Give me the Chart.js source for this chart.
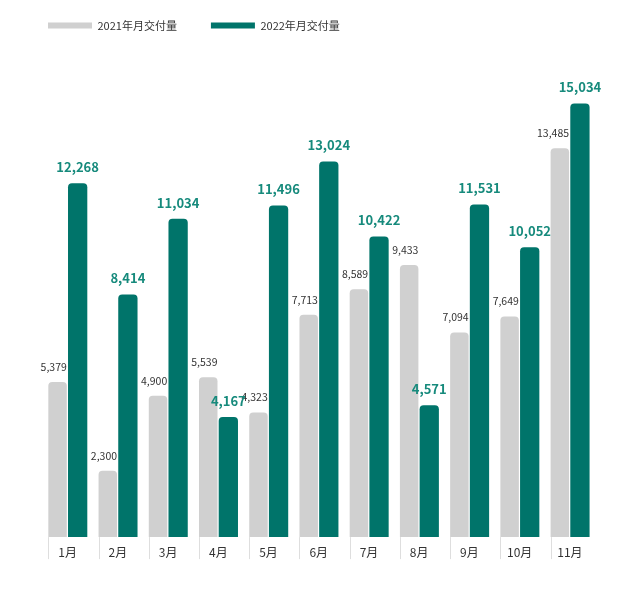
<!DOCTYPE html>
<html>
<head>
<meta charset="utf-8">
<script src="https://cdn.jsdelivr.net/npm/chart.js@4/dist/chart.umd.min.js"></script>
<style>
  html, body { margin: 0; padding: 0; background: #ffffff; }
  #wrap { width: 641px; height: 590px; position: relative; }
</style>
</head>
<body>
<div id="wrap"><canvas id="c" width="641" height="590"></canvas></div>
<script>
const categories = ['1月', '2月', '3月', '4月', '5月', '6月', '7月', '8月', '9月', '10月', '11月'];
const seriesNames = ['2021年月交付量', '2022年月交付量'];
const deliveries2021 = [5379, 2300, 4900, 5539, 4323, 7713, 8589, 9433, 7094, 7649, 13485];
const deliveries2022 = [12268, 8414, 11034, 4167, 11496, 13024, 10422, 4571, 11531, 10052, 15034];

const FONT = "'Noto Sans CJK SC', 'Noto Sans', sans-serif";
const GRAY = '#d0d0d0';
const TEAL = '#00746a';

const barLabels = {
  id: 'barLabels',
  afterDatasetsDraw(chart) {
    const ctx = chart.ctx;
    const area = chart.chartArea;
    ctx.save();
    // category separators below the bars
    const m0 = chart.getDatasetMeta(0);
    ctx.strokeStyle = '#dedede';
    ctx.lineWidth = 1;
    m0.data.forEach(bar => {
      const x = Math.round(bar.x - bar.width / 2) + 0.5;
      ctx.beginPath();
      ctx.moveTo(x, area.bottom);
      ctx.lineTo(x, area.bottom + 22);
      ctx.stroke();
    });
    // value labels
    ctx.textBaseline = 'middle';
    chart.data.datasets.forEach((ds, di) => {
      const meta = chart.getDatasetMeta(di);
      meta.data.forEach((bar, i) => {
        const txt = ds.data[i].toLocaleString('en-US');
        if (di === 0) {
          ctx.font = '10.5px ' + FONT;
          ctx.fillStyle = '#333333';
          ctx.textAlign = 'right';
          ctx.fillText(txt, bar.x + bar.width / 2, bar.y - 15);
        } else {
          ctx.font = 'bold 13px ' + FONT;
          ctx.fillStyle = '#168a7c';
          ctx.textAlign = 'center';
          ctx.fillText(txt, bar.x, bar.y - 16);
        }
      });
    });
    ctx.restore();
  }
};

new Chart(document.getElementById('c'), {
  type: 'bar',
  data: {
    labels: categories,
    datasets: [
      {
        label: seriesNames[0],
        data: deliveries2021,
        backgroundColor: GRAY,
        borderWidth: 0,
        borderRadius: 4,
        borderSkipped: 'start',
        barPercentage: 0.92,
        categoryPercentage: 0.8
      },
      {
        label: seriesNames[1],
        data: deliveries2022,
        backgroundColor: TEAL,
        borderWidth: 0,
        borderRadius: 4,
        borderSkipped: 'start',
        barPercentage: 0.96,
        categoryPercentage: 0.8
      }
    ]
  },
  options: {
    responsive: false,
    animation: false,
    layout: { padding: { left: 14, right: 46, top: -14, bottom: 22.5 } },
    plugins: {
      legend: {
        display: true,
        position: 'top',
        align: 'start',
        labels: {
          boxWidth: 44,
          boxHeight: 6,
          padding: 34,
          color: '#333333',
          font: { family: FONT, size: 11 }
        }
      },
      tooltip: { enabled: false }
    },
    scales: {
      x: {
        grid: { display: false, drawTicks: false },
        border: { display: false },
        ticks: {
          color: '#333333',
          padding: 8,
          font: { family: FONT, size: 12 }
        }
      },
      y: {
        min: 0,
        max: 17200,
        grid: { display: false, drawTicks: false },
        border: { display: false },
        ticks: { display: false },
        afterFit(scale) { scale.width = 28.5; }
      }
    }
  },
  plugins: [barLabels]
});
</script>
</body>
</html>
